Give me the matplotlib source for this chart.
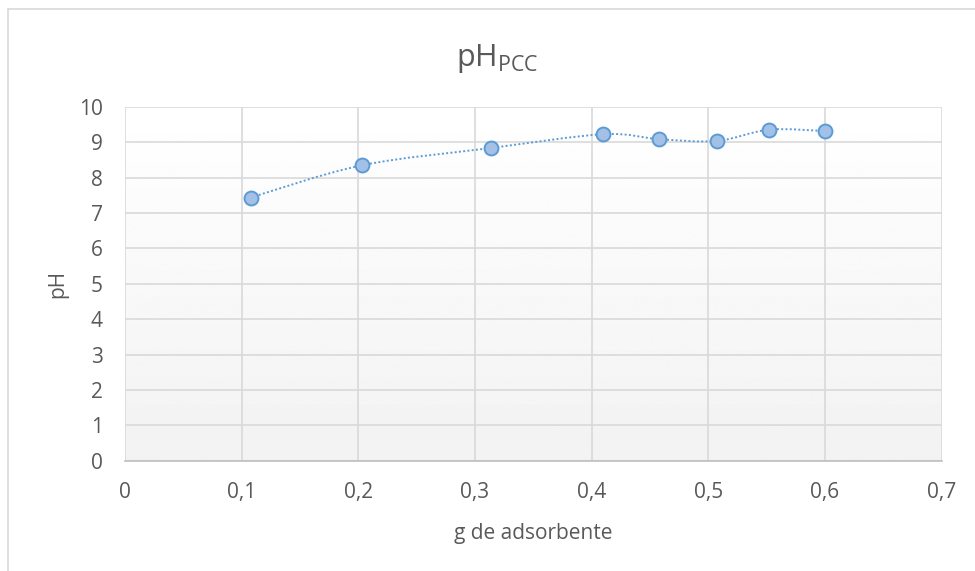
import matplotlib
matplotlib.use("Agg")
import matplotlib.pyplot as plt
import numpy as np
from matplotlib.path import Path
from matplotlib.patches import PathPatch
from matplotlib.lines import Line2D

# data
GRAMS = [0.1077, 0.2029, 0.3134, 0.4099, 0.4580, 0.5072, 0.5523, 0.6000]
PH = [7.44, 8.35, 8.84, 9.23, 9.09, 9.04, 9.36, 9.32]

X_TICKS = [0, 0.1, 0.2, 0.3, 0.4, 0.5, 0.6, 0.7]
Y_TICKS = list(range(0, 11))

TEXT_COLOR = "#595959"
GRID_COLOR = "#d9d9d9"
LINE_COLOR = "#5b9bd5"
FACE_COLOR = "#a3c0e6"

plt.rcParams["font.family"] = ["Open Sans", "DejaVu Sans"]
plt.rcParams["mathtext.fontset"] = "custom"
plt.rcParams["mathtext.rm"] = "Open Sans"
plt.rcParams["mathtext.it"] = "Open Sans"


def smooth_path(xs, ys):
    # Excel-style smoothed line: cubic Bezier segments through the points
    pts = np.column_stack([xs, ys])
    ext = np.vstack([pts[0], pts, pts[-1]])
    verts = [tuple(pts[0])]
    codes = [Path.MOVETO]
    for i in range(1, len(ext) - 2):
        p0, p1, p2, p3 = ext[i - 1], ext[i], ext[i + 1], ext[i + 2]
        c1 = p1 + (p2 - p0) / 6.0
        c2 = p2 - (p3 - p1) / 6.0
        verts += [tuple(c1), tuple(c2), tuple(p2)]
        codes += [Path.CURVE4] * 3
    return Path(verts, codes)


fig = plt.figure(figsize=(9.75, 5.71), dpi=100)
ax = fig.add_axes([125 / 975, 1 - 460.7 / 571, (941.7 - 125) / 975, (460.7 - 107) / 571])

ax.set_xlim(0, 0.7)
ax.set_ylim(0, 10)

# plot-area gradient, white at top to light grey at bottom
grad = np.linspace(0.949, 1.0, 256).reshape(-1, 1)
ax.imshow(grad, extent=[0, 0.7, 0, 10], origin="lower", aspect="auto",
          cmap="gray", vmin=0, vmax=1, zorder=0)

for x in X_TICKS:
    ax.axvline(x, color=GRID_COLOR, linewidth=1.2, zorder=1)
for y in Y_TICKS:
    ax.axhline(y, color=GRID_COLOR, linewidth=1.2, zorder=1)

for side in ["left", "right", "top"]:
    ax.spines[side].set_visible(False)
ax.spines["bottom"].set_color("#bfbfbf")
ax.spines["bottom"].set_linewidth(1.2)
ax.spines["bottom"].set_zorder(2)

patch = PathPatch(smooth_path(GRAMS, PH), fill=False, edgecolor=LINE_COLOR,
                  linewidth=1.4, linestyle=(0, (1, 1.2)), zorder=3)
ax.add_patch(patch)
ax.plot(GRAMS, PH, linestyle="none", marker="o", markersize=10,
        markerfacecolor=FACE_COLOR, markeredgecolor=LINE_COLOR,
        markeredgewidth=1.4, zorder=4)

ax.set_xticks(X_TICKS)
ax.set_xticklabels([("%g" % v).replace(".", ",") for v in X_TICKS])
ax.set_yticks(Y_TICKS)
ax.tick_params(axis="both", length=0, labelsize=15, colors=TEXT_COLOR)
ax.tick_params(axis="x", pad=15)
ax.tick_params(axis="y", pad=16)

ax.set_xlabel("g de adsorbente", fontsize=15, color=TEXT_COLOR, labelpad=15)
ax.set_ylabel("pH", fontsize=15, color=TEXT_COLOR, labelpad=8)

fig.text(497 / 975, 1 - 66 / 571, r"pH$_{\mathrm{PCC}}$", fontsize=22,
         color=TEXT_COLOR, ha="center", va="baseline")

# chart border
fig.add_artist(Line2D([8 / 975, 8 / 975], [0, 1 - 9 / 571], transform=fig.transFigure,
                      color="#d9d9d9", linewidth=1.2))
fig.add_artist(Line2D([8 / 975, 1], [1 - 9 / 571, 1 - 9 / 571], transform=fig.transFigure,
                      color="#d9d9d9", linewidth=1.2))

fig.savefig("out.png", dpi=100)
